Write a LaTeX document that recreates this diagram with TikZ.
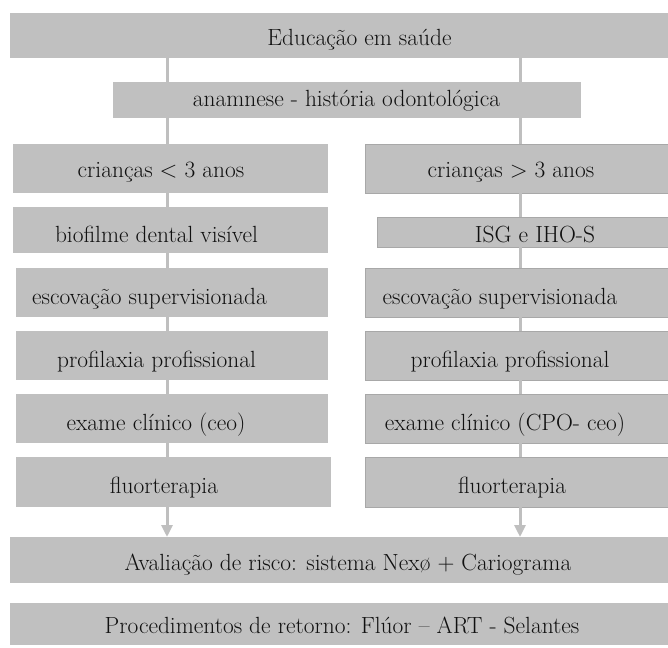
\documentclass[tikz,border=0pt]{standalone}
\usepackage{fontspec}
\usetikzlibrary{arrows.meta}
\definecolor{boxgray}{HTML}{C0C0C0}
\definecolor{linegray}{HTML}{BFBFBF}
\definecolor{edgegray}{HTML}{A8A8A8}
\definecolor{inkcol}{HTML}{101010}
\tikzset{
  box/.style={fill=boxgray, draw=none, inner sep=0pt, outer sep=0pt},
  rbox/.style={box, draw=edgegray, line width=0.8pt},
  txt/.style={font=\fontsize{23.4}{28}\selectfont, inner sep=0pt, text=inkcol, anchor=base},
  conn/.style={draw=linegray, line width=3pt},
  arr/.style={conn, -{Triangle[width=11pt,length=12pt]}}
}
\begin{document}
\begin{tikzpicture}[x=1pt,y=-1pt]
\useasboundingbox (0,0) rectangle (668,647);
\coordinate (cl) at (167,0);
\coordinate (cr) at (520,0);
% boxes
\node[box, minimum width=658pt, minimum height=45pt] (top) at (339,35.5) {};
\node[box, minimum width=468pt, minimum height=36pt] (ana) at (347,100) {};
\node[box, minimum width=315pt, minimum height=49pt] (l1) at (170.5,168.5) {};
\node[rbox, minimum width=305pt, minimum height=49pt] (r1) at (517.5,168.5) {};
\node[box, minimum width=315pt, minimum height=46pt] (l2) at (170.5,230) {};
\node[rbox, minimum width=293pt, minimum height=30pt] (r2) at (523.5,232) {};
\node[box, minimum width=312pt, minimum height=49pt] (l3) at (172,292.5) {};
\node[rbox, minimum width=305pt, minimum height=49pt] (r3) at (517.5,292.5) {};
\node[box, minimum width=312pt, minimum height=49pt] (l4) at (172,355.5) {};
\node[rbox, minimum width=305pt, minimum height=49pt] (r4) at (517.5,355.5) {};
\node[box, minimum width=312pt, minimum height=49pt] (l5) at (172,418.5) {};
\node[rbox, minimum width=305pt, minimum height=49pt] (r5) at (517.5,418.5) {};
\node[box, minimum width=315pt, minimum height=50pt] (l6) at (173.5,482) {};
\node[rbox, minimum width=305pt, minimum height=50pt] (r6) at (517.5,482) {};
\node[box, minimum width=658pt, minimum height=46pt] (aval) at (339,560) {};
\node[box, minimum width=658pt, minimum height=42pt] (proc) at (339,624) {};
% texts
\node[txt] (ttop) at (359.5,46) {Educação em saúde};
\node[txt] (tana) at (346.5,106.5) {anamnese - história odontológica};
\node[txt] (tl1) at (161,177.5) {crianças < 3 anos};
\node[txt] (tr1) at (511,177.5) {crianças > 3 anos};
\node[txt] (tl2) at (156.5,242) {biofilme dental visível};
\node[txt] (tr2) at (535,242) {ISG e IHO-S};
\node[txt] (tl3) at (149.5,304.5) {escovação supervisionada};
\node[txt] (tr3) at (500,304.5) {escovação supervisionada};
\node[txt] (tl4) at (156.5,367) {profilaxia profissional};
\node[txt] (tr4) at (510,367) {profilaxia profissional};
\node[txt] (tl5) at (156,430) {exame clínico (ceo)};
\node[txt] (tr5) at (505,430) {exame clínico (CPO- ceo)};
\node[txt] (tl6) at (164,493) {fluorterapia};
\node[txt] (tr6) at (512,493) {fluorterapia};
\node[txt] (taval) at (348,570.5) {Avaliação de risco: sistema Nexø + Cariograma};
\node[txt] (tproc) at (342,633) {Procedimentos de retorno: Flúor -- ART - Selantes};
% connectors
\foreach \c in {cl,cr}{
  \draw[conn] (top.south -| \c) -- (ana.north -| \c);
}
\draw[conn] (ana.south -| cl) -- (l1.north -| cl);
\draw[conn] (ana.south -| cr) -- (r1.north -| cr);
\draw[conn] (l1.south -| cl) -- (l2.north -| cl);
\draw[conn] (l2.south -| cl) -- (l3.north -| cl);
\draw[conn] (l3.south -| cl) -- (l4.north -| cl);
\draw[conn] (l4.south -| cl) -- (l5.north -| cl);
\draw[conn] (l5.south -| cl) -- (l6.north -| cl);
\draw[conn] (r1.south -| cr) -- (r2.north -| cr);
\draw[conn] (r2.south -| cr) -- (r3.north -| cr);
\draw[conn] (r3.south -| cr) -- (r4.north -| cr);
\draw[conn] (r4.south -| cr) -- (r5.north -| cr);
\draw[conn] (r5.south -| cr) -- (r6.north -| cr);
\draw[arr] (l6.south -| cl) -- (aval.north -| cl);
\draw[arr] (r6.south -| cr) -- (aval.north -| cr);
\end{tikzpicture}
\end{document}
